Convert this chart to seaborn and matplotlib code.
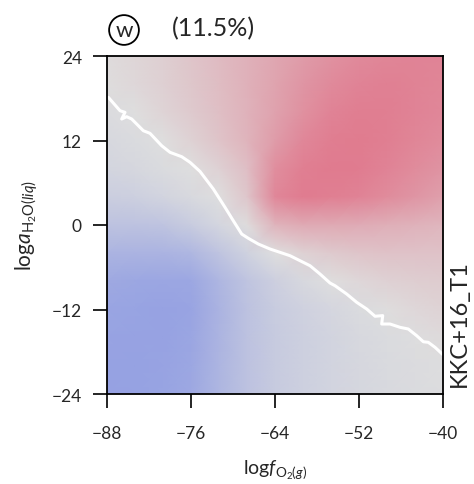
import numpy as np
import matplotlib
matplotlib.use("Agg")
import matplotlib.pyplot as plt
from matplotlib.colors import LinearSegmentedColormap
import seaborn as sns

# grid nodes (logfO2 across, logaH2O down from the top)
log_fO2 = [-88, -84, -80, -76, -72, -68, -64, -60, -56, -52, -48, -44, -40]
log_aH2O = [24, 20, 16, 12, 8, 4, 0, -4, -8, -12, -16, -20, -24]

# weighted rank difference of affinities (scaled)
rank_diff = [
    [0.03, 0.08, 0.15, 0.25, 0.35, 0.45, 0.55, 0.66, 0.76, 0.84, 0.88, 0.90, 0.90],
    [0.01, 0.07, 0.14, 0.23, 0.33, 0.45, 0.58, 0.72, 0.83, 0.90, 0.93, 0.91, 0.88],
    [-0.04, 0.00, 0.10, 0.20, 0.31, 0.44, 0.60, 0.77, 0.90, 0.96, 0.95, 0.90, 0.86],
    [-0.09, -0.05, 0.00, 0.12, 0.26, 0.42, 0.66, 0.86, 0.96, 0.98, 0.94, 0.88, 0.82],
    [-0.15, -0.11, -0.05, 0.00, 0.13, 0.32, 0.80, 0.95, 0.99, 0.97, 0.90, 0.82, 0.74],
    [-0.26, -0.23, -0.16, -0.08, 0.00, 0.24, 0.86, 0.97, 0.95, 0.90, 0.82, 0.72, 0.62],
    [-0.46, -0.46, -0.42, -0.30, -0.14, 0.02, 0.42, 0.52, 0.52, 0.50, 0.47, 0.43, 0.40],
    [-0.68, -0.70, -0.70, -0.64, -0.42, -0.20, 0.00, 0.12, 0.20, 0.25, 0.28, 0.28, 0.28],
    [-0.86, -0.90, -0.92, -0.90, -0.66, -0.42, -0.24, -0.10, 0.00, 0.07, 0.13, 0.16, 0.18],
    [-0.93, -0.95, -0.97, -0.94, -0.70, -0.46, -0.30, -0.21, -0.13, -0.05, 0.01, 0.07, 0.11],
    [-0.96, -0.97, -0.97, -0.92, -0.68, -0.46, -0.32, -0.23, -0.17, -0.10, -0.05, -0.01, 0.04],
    [-0.98, -0.98, -0.96, -0.90, -0.67, -0.46, -0.32, -0.23, -0.17, -0.11, -0.07, -0.04, -0.01],
    [-0.99, -0.98, -0.95, -0.88, -0.65, -0.45, -0.32, -0.23, -0.17, -0.12, -0.08, -0.05, -0.03],
]

# zero line (white)
bound_fO2 = [-87.81, -86.14, -85.43, -85.90, -85.19, -84.47, -82.81, -81.86, -80.19,
             -79.00, -77.33, -76.14, -74.71, -72.81, -71.14, -69.96, -68.76, -67.81,
             -66.39, -64.71, -63.29, -61.86, -60.43, -59.00, -57.57, -56.14, -55.43,
             -53.76, -52.33, -50.90, -49.71, -48.61, -48.76, -47.57, -46.14, -44.96,
             -43.76, -42.81, -42.10, -41.14, -39.96]
bound_aH2O = [18.13, 16.23, 16.00, 15.05, 15.38, 15.05, 13.39, 13.02, 11.26,
              10.32, 9.70, 8.90, 7.60, 5.11, 2.51, 0.61, -1.28, -1.89,
              -2.70, -3.41, -3.88, -4.36, -5.07, -5.78, -6.96, -8.24, -8.62,
              -9.80, -10.98, -11.93, -12.96, -12.87, -14.06, -14.06, -14.53, -14.77,
              -15.72, -16.58, -16.66, -17.37, -18.46]

x_ticks = [-88, -76, -64, -52, -40]
y_ticks = [-24, -12, 0, 12, 24]

sns.set_style("ticks")
plt.rcParams['font.family'] = ['Lato', 'DejaVu Sans']
plt.rcParams['mathtext.fontset'] = 'custom'
plt.rcParams['mathtext.rm'] = 'Lato'
plt.rcParams['mathtext.it'] = 'Lato:italic'

cmap = LinearSegmentedColormap.from_list("bluered", ["#95A1E2", "#DEDEDE", "#E07A8E"])

fig = plt.figure(figsize=(4.74, 4.85), dpi=100)
ax = fig.add_axes([107/474, 1 - 395/485, 336/474, 338/485])

ax.pcolormesh(log_fO2, log_aH2O, np.array(rank_diff), shading='gouraud',
              cmap=cmap, vmin=-1, vmax=1)
sns.lineplot(x=bound_fO2, y=bound_aH2O, sort=False, estimator=None,
             color='white', lw=2.2, ax=ax)

ax.set_xlim(-88, -40)
ax.set_ylim(-24, 24)
ax.set_xticks(x_ticks)
ax.set_yticks(y_ticks)
ax.set_xticklabels([str(v).replace('-', '\u2212') for v in x_ticks])
ax.set_yticklabels([str(v).replace('-', '\u2212') for v in y_ticks])
ax.tick_params(axis='both', direction='out', length=10, width=1.2,
               labelsize=12.5, color='black')
ax.tick_params(axis='x', pad=12)
ax.tick_params(axis='y', pad=8)
for s in ax.spines.values():
    s.set_visible(True)
    s.set_linewidth(1.3)
    s.set_color('black')

ax.set_xlabel(r'$\mathrm{log}f_{\mathrm{O_2}(g)}$', fontsize=14)
ax.set_ylabel(r'$\mathrm{log}a_{\mathrm{H_2O}(liq)}$', fontsize=15)
ax.xaxis.set_label_coords(0.5, -0.19)
ax.yaxis.set_label_coords(-0.2, 0.5)

fig.text(124/474, 1 - 31/485, 'w', fontsize=16, ha='center', va='center',
         bbox=dict(boxstyle='circle,pad=0.22', fc='none', ec='black', lw=1.3))
fig.text(213/474, 1 - 29/485, '(11.5%)', fontsize=18, ha='center', va='center')
fig.text(459/474, 1 - 324/485, 'KKC+16_T1', fontsize=17, rotation=90,
         ha='center', va='center')

fig.savefig('out.png', dpi=100)
